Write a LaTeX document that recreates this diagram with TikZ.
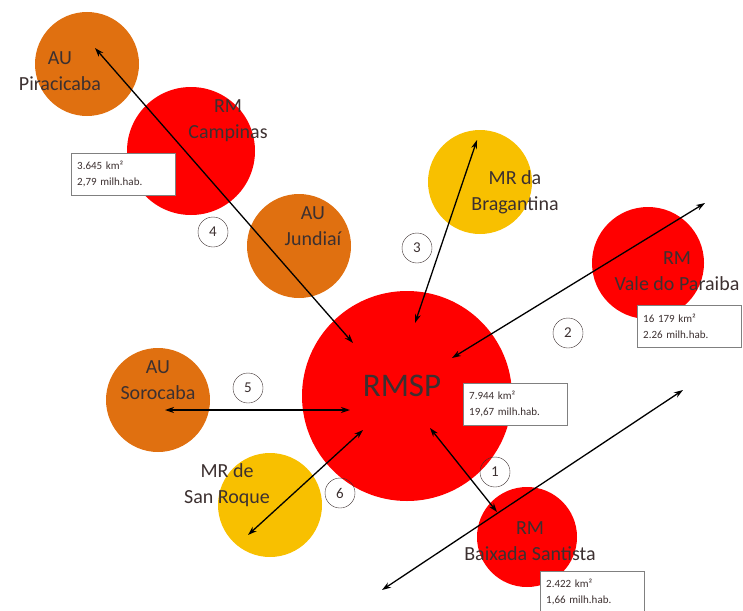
\documentclass[tikz,border=0pt]{standalone}
\usepackage{fontspec}
\setmainfont{Carlito}
\usetikzlibrary{arrows.meta}
\definecolor{Laranja}{HTML}{E07010}
\definecolor{Vermelho}{HTML}{FF0000}
\definecolor{Amarelo}{HTML}{F8C000}
\definecolor{Texto}{HTML}{3C3030}

\tikzset{
  regiao/.style={circle,inner sep=0pt,minimum size=#1},
  rotulo/.style={text=Texto,align=center,font=\fontsize{20}{26}\selectfont},
  dados/.style={draw=gray,fill=white,align=left,text=Texto,anchor=north west,
    text width=92pt,inner xsep=6pt,minimum height=42pt,font=\fontsize{11}{16}\selectfont},
  numero/.style={circle,draw=Texto,thin,minimum size=30pt,inner sep=0pt,
    font=\fontsize{15}{15}\selectfont,text=Texto},
  liga/.style={{Stealth[length=9pt,width=6pt]}-{Stealth[length=9pt,width=6pt]},line width=1.3pt}
}

\begin{document}
\begin{tikzpicture}[x=1pt,y=-1pt]
    \useasboundingbox (0,0) rectangle (743,610);

    % regioes
    \node[regiao=104pt,fill=Laranja] (pira) at (87,64) {};
    \node[regiao=128pt,fill=Vermelho] (camp) at (191,151) {};
    \node[regiao=104pt,fill=Laranja] (jund) at (299,246) {};
    \node[regiao=104pt,fill=Amarelo] (brag) at (480,182) {};
    \node[regiao=112pt,fill=Vermelho] (vale) at (648,263) {};
    \node[regiao=210pt,fill=Vermelho] (rmsp) at (407,396) {};
    \node[regiao=100pt,fill=Vermelho] (baix) at (527,537) {};
    \node[regiao=104pt,fill=Laranja] (soro) at (158,400) {};
    \node[regiao=104pt,fill=Amarelo] (roque) at (270,505) {};

    % nomes
    \node[rotulo] (pira-txt) at (60,71) {AU\\Piracicaba};
    \node[rotulo] (camp-txt) at (228,121) {RM\\Campinas};
    \node[rotulo] (jund-txt) at (313,226) {AU\\Jundiaí};
    \node[rotulo] (brag-txt) at (515,192) {MR da\\Bragantina};
    \node[rotulo] (vale-txt) at (677,271) {RM\\Vale do Paraiba};
    \node[text=Texto,font=\fontsize{33}{33}\selectfont] (rmsp-txt) at (402,386) {RMSP};
    \node[rotulo] (baix-txt) at (530,541) {RM\\Baixada Santista};
    \node[rotulo] (soro-txt) at (158,380) {AU\\Sorocaba};
    \node[rotulo] (roque-txt) at (227,485) {MR de\\San Roque};

    % pontas das ligacoes
    \coordinate (pira-p) at (95,48);
    \coordinate (rmsp-p4) at (353,343);
    \coordinate (brag-p) at (477,140);
    \coordinate (rmsp-p3) at (415,323);
    \coordinate (vale-p) at (705,203);
    \coordinate (rmsp-p2) at (452,358);
    \coordinate (rmsp-p1) at (430,428);
    \coordinate (baix-p) at (497,512);
    \coordinate (eixo-a) at (382,590);
    \coordinate (eixo-b) at (683,390);
    \coordinate (soro-p) at (165,410);
    \coordinate (rmsp-p5) at (350,410);
    \coordinate (roque-p) at (248,535);
    \coordinate (rmsp-p6) at (363,430);

    \draw[liga] (pira-p) -- (rmsp-p4);
    \draw[liga] (brag-p) -- (rmsp-p3);
    \draw[liga] (vale-p) -- (rmsp-p2);
    \draw[liga] (rmsp-p1) -- (baix-p);
    \draw[liga] (eixo-a) -- (eixo-b);
    \draw[liga] (soro-p) -- (rmsp-p5);
    \draw[liga] (roque-p) -- (rmsp-p6);

    % numeros
    \node[numero] (n1) at (495,472) {1};
    \node[numero] (n2) at (568,333) {2};
    \node[numero] (n3) at (417,248) {3};
    \node[numero] (n4) at (213,232) {4};
    \node[numero] (n5) at (248,388) {5};
    \node[numero] (n6) at (340,493) {6};

    % dados
    \node[dados] (camp-box) at (71,153) {3.645 km²\\2,79 milh.hab.};
    \node[dados] (rmsp-box) at (463,383) {7.944 km²\\19,67 milh.hab.};
    \node[dados] (vale-box) at (637,305) {16 179 km²\\2.26 milh.hab.};
    \node[dados] (baix-box) at (540,571) {2.422 km²\\1,66 milh.hab.};
\end{tikzpicture}
\end{document}
